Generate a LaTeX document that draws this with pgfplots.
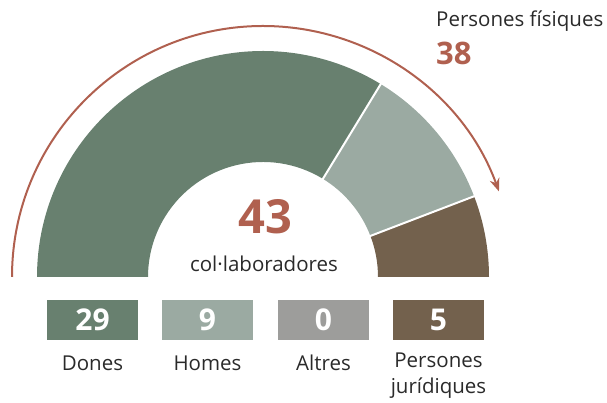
\documentclass[border=0pt]{standalone}
\usepackage{fontspec}
\setmainfont{Open Sans}
\usepackage{pgfplots}
\usepackage{pgfplotstable}
\pgfplotsset{compat=1.18}
\usetikzlibrary{arrows.meta}
\definecolor{cDones}{HTML}{68806F}
\definecolor{cHomes}{HTML}{9BAAA2}
\definecolor{cAltres}{HTML}{9D9D9B}
\definecolor{cPJ}{HTML}{73614D}
\definecolor{cRed}{HTML}{B0604F}
\definecolor{cText}{HTML}{2A2A2A}
\pgfplotstableread{
label value
Dones 29
Homes 9
Altres 0
PJ 5
}\data
\begin{document}
\begin{tikzpicture}
\pgfplotstablegetelem{0}{value}\of\data \let\vA\pgfplotsretval
\pgfplotstablegetelem{1}{value}\of\data \let\vB\pgfplotsretval
\pgfplotstablegetelem{2}{value}\of\data \let\vC\pgfplotsretval
\pgfplotstablegetelem{3}{value}\of\data \let\vD\pgfplotsretval
\pgfmathtruncatemacro\tot{\vA+\vB+\vC+\vD}
\pgfmathtruncatemacro\fis{\vA+\vB+\vC}
\pgfmathsetmacro\aA{180}
\pgfmathsetmacro\aB{180-180*\vA/\tot}
\pgfmathsetmacro\aC{\aB-180*\vB/\tot}
\pgfmathsetmacro\aD{\aC-180*\vC/\tot}
\pgfmathsetmacro\aE{\aD-180*\vD/\tot}
\pgfmathsetmacro\aF{180-180*\fis/\tot}
\begin{axis}[x=1pt,y=1pt,xmin=0,xmax=607,ymin=0,ymax=403,hide axis,clip=false,
  anchor=origin, at={(0,0)}]
\path (axis cs:0,0) rectangle (axis cs:607,403);
% donut wedges
\fill[cDones] (axis cs:263,126) ++(\aA:226pt) arc[start angle=\aA,end angle=\aB,radius=226pt] -- ++(\aB:-111pt) arc[start angle=\aB,end angle=\aA,radius=115pt] -- cycle;
\fill[cHomes] (axis cs:263,126) ++(\aB:226pt) arc[start angle=\aB,end angle=\aC,radius=226pt] -- ++(\aC:-111pt) arc[start angle=\aC,end angle=\aB,radius=115pt] -- cycle;
\fill[cPJ] (axis cs:263,126) ++(\aD:226pt) arc[start angle=\aD,end angle=\aE,radius=226pt] -- ++(\aE:-111pt) arc[start angle=\aE,end angle=\aD,radius=115pt] -- cycle;
\draw[white,line width=2pt] (axis cs:263,126) ++(\aB:110pt) -- ++(\aB:120pt);
\draw[white,line width=2pt] (axis cs:263,126) ++(\aC:110pt) -- ++(\aC:120pt);
% arc arrow
\draw[cRed,line width=2pt,-{Stealth[length=13pt,width=10pt]}] (axis cs:263,126) ++(180:251pt) arc[start angle=180,end angle=\aF-1,radius=251pt];
% texts
\node[cRed,font=\bfseries\fontsize{47}{49}\selectfont] at (axis cs:265,186) {\tot};
\node[cText,font=\fontsize{20.5}{24}\selectfont] at (axis cs:264,139) {col·laboradores};
\node[cText,font=\fontsize{20.5}{24}\selectfont,anchor=west,inner sep=0pt] at (axis cs:436,382) {Persones físiques};
\node[cRed,font=\bfseries\fontsize{31}{33}\selectfont,anchor=west,inner sep=0pt] at (axis cs:436,350) {\fis};
% boxes
\foreach \cx/\col/\v in {92.5/cDones/\vA,207.5/cHomes/\vB,323.5/cAltres/\vC,438.5/cPJ/\vD}{
  \edef\tmp{\noexpand\node[fill=\col,minimum width=91pt,minimum height=40pt,inner sep=0pt,text=white,font=\noexpand\bfseries\noexpand\fontsize{30}{32}\noexpand\selectfont] at (axis cs:\cx,83) {\v};}\tmp
}
\node[cText,font=\fontsize{20.5}{24}\selectfont] at (axis cs:92.5,40) {Dones};
\node[cText,font=\fontsize{20.5}{24}\selectfont] at (axis cs:207.5,40) {Homes};
\node[cText,font=\fontsize{20.5}{24}\selectfont] at (axis cs:323.5,40) {Altres};
\node[cText,font=\fontsize{20.5}{26}\selectfont,align=center,inner sep=0pt] at (axis cs:438.5,27) {Persones\\jurídiques};
\end{axis}
\end{tikzpicture}
\end{document}
